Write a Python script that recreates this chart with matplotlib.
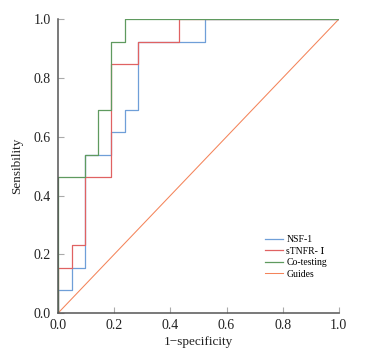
import matplotlib
matplotlib.use("Agg")
import matplotlib.pyplot as plt

# ROC curve vertices (1-specificity, sensitivity), 13 positives / 21 negatives
nsf_fpr = [0.0, 0.0, 0.048, 0.048, 0.095, 0.095, 0.190, 0.190, 0.238, 0.238, 0.286, 0.286, 0.524, 0.524, 1.0]
nsf_tpr = [0.0, 0.077, 0.077, 0.154, 0.154, 0.538, 0.538, 0.615, 0.615, 0.692, 0.692, 0.923, 0.923, 1.0, 1.0]

stnfr_fpr = [0.0, 0.0, 0.048, 0.048, 0.095, 0.095, 0.190, 0.190, 0.286, 0.286, 0.429, 0.429, 1.0]
stnfr_tpr = [0.0, 0.154, 0.154, 0.231, 0.231, 0.462, 0.462, 0.846, 0.846, 0.923, 0.923, 1.0, 1.0]

co_fpr = [0.0, 0.0, 0.095, 0.095, 0.143, 0.143, 0.190, 0.190, 0.238, 0.238, 1.0]
co_tpr = [0.0, 0.462, 0.462, 0.538, 0.538, 0.692, 0.692, 0.923, 0.923, 1.0, 1.0]

guide_x = [0.0, 1.0]
guide_y = [0.0, 1.0]

ticks = [0.0, 0.2, 0.4, 0.6, 0.8, 1.0]
tick_labels = ["0.0", "0.2", "0.4", "0.6", "0.8", "1.0"]

plt.rcParams["font.family"] = ["Liberation Serif", "DejaVu Serif", "Noto Sans CJK SC"]

fig = plt.figure(figsize=(3.82, 3.55), dpi=100)
ax = fig.add_axes([0.152, 0.118, 0.735, 0.828])

l1, = ax.plot(nsf_fpr, nsf_tpr, color="#6f9fd8", lw=0.9, zorder=3, label="NSF-1")
l2, = ax.plot(stnfr_fpr, stnfr_tpr, color="#e06262", lw=0.9, zorder=4, label="sTNFR- \u2160")
l3, = ax.plot(co_fpr, co_tpr, color="#5f9a5f", lw=0.9, zorder=5, label="Co-testing")
l4, = ax.plot(guide_x, guide_y, color="#f4845a", lw=0.75, zorder=2, label="Guides")

ax.set_xlim(0, 1)
ax.set_ylim(0, 1)
ax.set_xticks(ticks)
ax.set_xticklabels(tick_labels)
ax.set_yticks(ticks)
ax.set_yticklabels(tick_labels)
ax.tick_params(direction="in", length=4, width=0.8, color="#aaaaaa",
               labelsize=10, labelcolor="#222222")
ax.tick_params(axis="y", pad=5)
ax.tick_params(axis="x", pad=4)

for side in ["top", "right"]:
    ax.spines[side].set_visible(False)
for side in ["left", "bottom"]:
    ax.spines[side].set_color("#555555")
    ax.spines[side].set_linewidth(1.1)
    ax.spines[side].set_zorder(6)

ax.set_xlabel("1\u2212specificity", fontsize=9.5, color="#222222", labelpad=3)
ax.set_ylabel("Sensibility", fontsize=9.5, color="#222222", labelpad=8)

ax.legend(handles=[l1, l2, l3, l4], loc="upper left", bbox_to_anchor=(0.737, 0.265),
          frameon=False, fontsize=7, handlelength=1.9, handletextpad=0.3,
          labelspacing=0.25, borderpad=0, borderaxespad=0)

fig.savefig("out.png", dpi=100)
